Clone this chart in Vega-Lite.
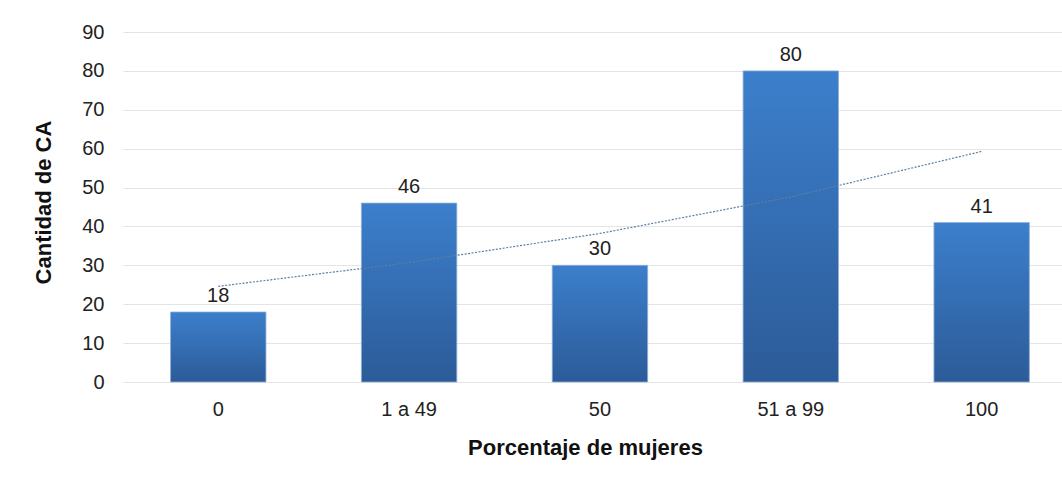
{
  "$schema": "https://vega.github.io/schema/vega-lite/v6.json",
  "autosize": {"type": "none"},
  "padding": {"left": 123, "top": 32, "right": 0, "bottom": 96},
  "width": 939,
  "height": 350,
  "background": "white",
  "config": {
    "view": {"stroke": null},
    "font": "Liberation Sans",
    "axis": {"labelFont": "Liberation Sans", "titleFont": "Liberation Sans", "labelColor": "#222222", "titleColor": "#111111"},
    "axisY": {
      "titleFontSize": 22,
      "titleFontWeight": "bold",
      "titlePadding": 26,
      "titleY": 170,
      "labelFontSize": 20,
      "labelPadding": 19,
      "labelOverlap": false,
      "values": [0, 10, 20, 30, 40, 50, 60, 70, 80, 90],
      "ticks": false,
      "domain": false,
      "gridColor": "#E4E4E4",
      "gridWidth": 1
    }
  },
  "data": {
    "values": [
      {"categoria": "0", "cantidad": 18, "tendencia": 24.6},
      {"categoria": "1 a 49", "cantidad": 46, "tendencia": 30.7},
      {"categoria": "50", "cantidad": 30, "tendencia": 38.2},
      {"categoria": "51 a 99", "cantidad": 80, "tendencia": 47.6},
      {"categoria": "100", "cantidad": 41, "tendencia": 59.3}
    ]
  },
  "encoding": {
    "x": {
      "field": "categoria",
      "type": "nominal",
      "sort": null,
      "scale": {"paddingInner": 0.5, "paddingOuter": 0.21, "align": 0.593},
      "axis": {
        "title": "Porcentaje de mujeres",
        "titleFontSize": 22,
        "titleFontWeight": "bold",
        "titlePadding": 18,
        "titleX": 462,
        "labelFontSize": 20,
        "labelAngle": 0,
        "labelPadding": 17,
        "ticks": false,
        "domain": false
      }
    }
  },
  "layer": [
    {
      "mark": {
        "type": "bar",
        "color": {
          "gradient": "linear",
          "x1": 0, "y1": 0, "x2": 0, "y2": 1,
          "stops": [
            {"offset": 0, "color": "#3C7FCC"},
            {"offset": 1, "color": "#2C5B98"}
          ]
        },
        "stroke": "#8FB0D8",
        "strokeWidth": 0.8
      },
      "encoding": {
        "y": {
          "field": "cantidad",
          "type": "quantitative",
          "scale": {"domain": [0, 90], "nice": false},
          "axis": {"title": "Cantidad de CA", "values": [0, 10, 20, 30, 40, 50, 60, 70, 80, 90]}
        }
      }
    },
    {
      "mark": {"type": "text", "dy": -16, "fontSize": 20, "color": "#222222", "font": "Liberation Sans"},
      "encoding": {
        "y": {"field": "cantidad", "type": "quantitative", "axis": {"title": "Cantidad de CA", "values": [0, 10, 20, 30, 40, 50, 60, 70, 80, 90]}},
        "text": {"field": "cantidad", "type": "quantitative"}
      }
    },
    {
      "mark": {"type": "line", "color": "#5B7FA6", "strokeWidth": 1.2, "strokeDash": [2, 1.5]},
      "encoding": {
        "y": {"field": "tendencia", "type": "quantitative", "axis": {"title": "Cantidad de CA", "values": [0, 10, 20, 30, 40, 50, 60, 70, 80, 90]}}
      }
    }
  ]
}
